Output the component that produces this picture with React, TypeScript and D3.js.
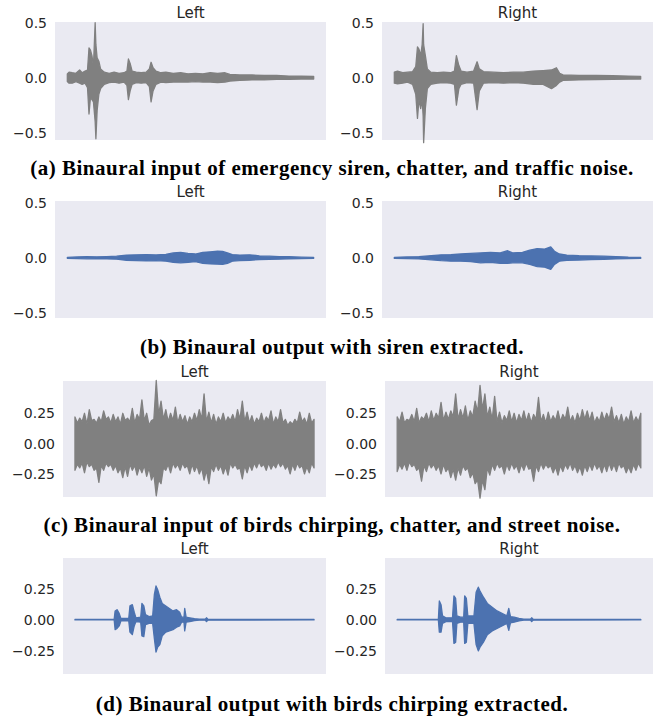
import React from 'react';
import * as d3 from 'd3';

type Env = [number, number, number][]; // [time %, upper envelope, lower envelope]

// (a) input: siren + chatter + traffic
const sirenInputLeft: Env = [
  [0, 0.035, -0.035], [0.7, 0.05, -0.05], [2, 0.045, -0.05], [3.5, 0.04, -0.035], [5, 0.07, -0.05],
  [6, 0.045, -0.06], [7.2, 0.06, -0.05], [8.2, 0.07, -0.09], [8.8, 0.27, -0.33], [9.4, 0.25, -0.18],
  [10, 0.2, -0.2], [10.6, 0.1, -0.22], [11.3, 0.5, -0.4], [11.6, 0.3, -0.555], [12.1, 0.18, -0.3],
  [12.8, 0.15, -0.15], [13.5, 0.08, -0.1], [15, 0.05, -0.06], [17, 0.04, -0.045], [19, 0.05, -0.04],
  [21, 0.04, -0.05], [23, 0.045, -0.04], [24.2, 0.06, -0.07], [24.8, 0.17, -0.2], [25.5, 0.13, -0.12],
  [26.3, 0.06, -0.06], [28, 0.05, -0.045], [30, 0.045, -0.05], [32, 0.05, -0.045], [33.3, 0.08, -0.08],
  [34, 0.14, -0.22], [34.8, 0.09, -0.12], [36, 0.06, -0.06], [38, 0.045, -0.04], [40, 0.05, -0.045],
  [43, 0.04, -0.04], [46, 0.045, -0.04], [49, 0.035, -0.04], [52, 0.04, -0.035], [55, 0.035, -0.04],
  [58, 0.045, -0.04], [61, 0.04, -0.045], [64, 0.045, -0.04], [66, 0.03, -0.03], [70, 0.025, -0.025],
  [75, 0.025, -0.02], [80, 0.02, -0.02], [85, 0.02, -0.015], [90, 0.015, -0.015], [95, 0.013, -0.012],
  [100, 0.012, -0.012],
];
const sirenInputRight: Env = [
  [0, 0.05, -0.05], [1.3, 0.06, -0.055], [3.4, 0.045, -0.05], [5.4, 0.05, -0.04], [7.4, 0.055, -0.06],
  [8.7, 0.1, -0.15], [9.4, 0.28, -0.37], [10, 0.26, -0.2], [10.7, 0.2, -0.28], [11.3, 0.3, -0.2],
  [11.7, 0.49, -0.35], [11.9, 0.3, -0.59], [12.6, 0.2, -0.28], [13.4, 0.08, -0.1], [14.8, 0.05, -0.06],
  [17.4, 0.045, -0.05], [20, 0.05, -0.045], [22.8, 0.045, -0.05], [24.4, 0.06, -0.06], [25.2, 0.2, -0.25],
  [26.2, 0.11, -0.1], [27.1, 0.06, -0.06], [29.5, 0.05, -0.045], [32.2, 0.06, -0.05], [33.6, 0.145, -0.29],
  [34.5, 0.08, -0.12], [36.2, 0.055, -0.05], [40.3, 0.05, -0.045], [44.3, 0.045, -0.05], [48.3, 0.05, -0.045],
  [52.3, 0.05, -0.05], [56.4, 0.06, -0.06], [60.4, 0.065, -0.06], [63.8, 0.07, -0.1], [65.8, 0.09, -0.07],
  [67.1, 0.04, -0.04], [68.5, 0.025, -0.025], [75, 0.022, -0.02], [82, 0.02, -0.018], [88.6, 0.018, -0.015],
  [95, 0.015, -0.013], [100, 0.012, -0.012],
];

// (b) output: siren extracted
const sirenOutputLeft: Env = [
  [0, 0.004, -0.004], [4, 0.008, -0.007], [8, 0.01, -0.009], [12, 0.009, -0.01], [16, 0.012, -0.01],
  [20, 0.015, -0.012], [24, 0.025, -0.022], [28, 0.028, -0.025], [32, 0.03, -0.028], [36, 0.027, -0.025],
  [40, 0.032, -0.03], [43, 0.045, -0.04], [46, 0.05, -0.045], [49, 0.04, -0.04], [52, 0.035, -0.035],
  [55, 0.05, -0.05], [58, 0.055, -0.055], [61, 0.06, -0.058], [63, 0.058, -0.06], [65, 0.045, -0.05],
  [67, 0.03, -0.03], [70, 0.025, -0.025], [74, 0.028, -0.022], [78, 0.018, -0.015], [82, 0.015, -0.013],
  [86, 0.012, -0.012], [90, 0.01, -0.008], [95, 0.006, -0.006], [100, 0.004, -0.004],
];
const sirenOutputRight: Env = [
  [0, 0.005, -0.005], [5, 0.008, -0.007], [10, 0.012, -0.01], [15, 0.02, -0.018], [19, 0.028, -0.025],
  [23, 0.03, -0.03], [27, 0.035, -0.03], [31, 0.04, -0.035], [35, 0.045, -0.045], [39, 0.05, -0.04],
  [43, 0.045, -0.05], [46, 0.065, -0.05], [48, 0.045, -0.045], [52, 0.05, -0.045], [55, 0.07, -0.06],
  [58, 0.085, -0.08], [61, 0.08, -0.085], [63.5, 0.1, -0.105], [65, 0.06, -0.06], [67, 0.035, -0.03],
  [70, 0.025, -0.022], [75, 0.02, -0.02], [80, 0.018, -0.015], [85, 0.015, -0.013], [90, 0.012, -0.01],
  [95, 0.007, -0.006], [100, 0.005, -0.005],
];

// (c) input: birds + chatter + street — spike peaks (51) and the dense body between them (50)
const birdsInputLeftPeakHi = [0.22, 0.21, 0.25, 0.28, 0.2, 0.22, 0.27, 0.22, 0.24, 0.22, 0.25, 0.21, 0.29, 0.24, 0.36, 0.25, 0.19, 0.52, 0.35, 0.28, 0.25, 0.3, 0.24, 0.23, 0.22, 0.25, 0.28, 0.41, 0.26, 0.24, 0.22, 0.25, 0.22, 0.24, 0.28, 0.35, 0.26, 0.23, 0.21, 0.25, 0.22, 0.27, 0.22, 0.28, 0.2, 0.18, 0.2, 0.26, 0.21, 0.25, 0.2];
const birdsInputLeftPeakLo = [-0.22, -0.2, -0.24, -0.19, -0.22, -0.32, -0.22, -0.19, -0.22, -0.24, -0.28, -0.27, -0.22, -0.26, -0.24, -0.27, -0.3, -0.43, -0.33, -0.22, -0.24, -0.2, -0.22, -0.2, -0.25, -0.23, -0.25, -0.3, -0.33, -0.23, -0.22, -0.25, -0.26, -0.2, -0.21, -0.29, -0.24, -0.22, -0.2, -0.19, -0.22, -0.21, -0.2, -0.19, -0.21, -0.25, -0.22, -0.2, -0.25, -0.24, -0.2];
const birdsInputLeftBodyHi = [0.17, 0.18, 0.16, 0.19, 0.17, 0.18, 0.2, 0.17, 0.18, 0.16, 0.19, 0.18, 0.17, 0.2, 0.19, 0.15, 0.2, 0.24, 0.2, 0.18, 0.19, 0.17, 0.18, 0.16, 0.18, 0.19, 0.2, 0.18, 0.17, 0.16, 0.18, 0.17, 0.19, 0.18, 0.2, 0.18, 0.17, 0.16, 0.18, 0.17, 0.19, 0.16, 0.18, 0.17, 0.15, 0.16, 0.17, 0.18, 0.16, 0.17];
const birdsInputLeftBodyLo = [-0.17, -0.16, -0.15, -0.17, -0.2, -0.18, -0.16, -0.17, -0.18, -0.2, -0.19, -0.17, -0.18, -0.19, -0.18, -0.2, -0.25, -0.3, -0.2, -0.17, -0.16, -0.17, -0.16, -0.18, -0.17, -0.18, -0.2, -0.22, -0.19, -0.17, -0.18, -0.19, -0.16, -0.17, -0.2, -0.18, -0.17, -0.16, -0.15, -0.17, -0.16, -0.17, -0.15, -0.16, -0.18, -0.17, -0.16, -0.18, -0.19, -0.16];
const birdsInputRightPeakHi = [0.22, 0.26, 0.2, 0.24, 0.29, 0.22, 0.25, 0.27, 0.25, 0.34, 0.26, 0.27, 0.41, 0.28, 0.31, 0.27, 0.35, 0.48, 0.41, 0.3, 0.39, 0.26, 0.23, 0.27, 0.25, 0.24, 0.27, 0.25, 0.24, 0.38, 0.24, 0.26, 0.23, 0.27, 0.24, 0.3, 0.23, 0.25, 0.28, 0.27, 0.26, 0.22, 0.26, 0.25, 0.3, 0.23, 0.24, 0.22, 0.27, 0.22, 0.25];
const birdsInputRightPeakLo = [-0.23, -0.21, -0.22, -0.19, -0.22, -0.31, -0.23, -0.2, -0.22, -0.25, -0.23, -0.28, -0.3, -0.26, -0.22, -0.28, -0.33, -0.45, -0.38, -0.26, -0.22, -0.2, -0.25, -0.22, -0.21, -0.24, -0.22, -0.21, -0.31, -0.23, -0.21, -0.2, -0.24, -0.26, -0.23, -0.21, -0.22, -0.24, -0.26, -0.23, -0.22, -0.21, -0.24, -0.23, -0.22, -0.23, -0.2, -0.24, -0.24, -0.22, -0.2];
const birdsInputRightBodyHi = [0.18, 0.17, 0.19, 0.18, 0.17, 0.2, 0.18, 0.19, 0.21, 0.19, 0.2, 0.22, 0.2, 0.21, 0.19, 0.22, 0.26, 0.28, 0.22, 0.2, 0.18, 0.17, 0.19, 0.18, 0.17, 0.19, 0.18, 0.17, 0.2, 0.18, 0.17, 0.18, 0.19, 0.18, 0.2, 0.18, 0.17, 0.19, 0.2, 0.19, 0.17, 0.18, 0.19, 0.2, 0.18, 0.17, 0.16, 0.18, 0.17, 0.18];
const birdsInputRightBodyLo = [-0.17, -0.16, -0.15, -0.17, -0.2, -0.18, -0.16, -0.17, -0.18, -0.17, -0.2, -0.21, -0.2, -0.18, -0.2, -0.24, -0.3, -0.3, -0.2, -0.17, -0.16, -0.18, -0.17, -0.16, -0.18, -0.17, -0.16, -0.2, -0.18, -0.16, -0.17, -0.18, -0.19, -0.18, -0.17, -0.16, -0.18, -0.19, -0.18, -0.17, -0.16, -0.18, -0.17, -0.16, -0.17, -0.16, -0.18, -0.19, -0.17, -0.16];

// (d) output: birds extracted
const birdsOutputLeft: Env = [
  [0, 0.002, -0.002], [16.4, 0.002, -0.002], [16.8, 0.07, -0.08], [17.6, 0.08, -0.07], [18.5, 0.05, -0.05],
  [19.2, 0.01, -0.01], [22.5, 0.01, -0.01], [23, 0.11, -0.1], [24, 0.12, -0.12], [24.8, 0.06, -0.05],
  [25.5, 0.015, -0.015], [27.5, 0.02, -0.02], [28, 0.13, -0.13], [28.8, 0.11, -0.135], [29.5, 0.04, -0.04],
  [31, 0.025, -0.03], [32.5, 0.03, -0.03], [33.2, 0.2, -0.15], [33.9, 0.27, -0.26], [34.6, 0.24, -0.22],
  [35.5, 0.18, -0.2], [36.5, 0.13, -0.13], [38, 0.11, -0.1], [39.5, 0.09, -0.09], [41, 0.07, -0.08],
  [42.5, 0.08, -0.06], [43.8, 0.06, -0.05], [44.6, 0.02, -0.02], [45.6, 0.02, -0.02], [45.9, 0.09, -0.09],
  [46.5, 0.02, -0.02], [48, 0.015, -0.015], [50, 0.008, -0.008], [52, 0.004, -0.004], [54.5, 0.004, -0.004],
  [55, 0.015, -0.015], [55.6, 0.004, -0.004], [100, 0.002, -0.002],
];
const birdsOutputRight: Env = [
  [0, 0.002, -0.002], [16.9, 0.002, -0.002], [17.3, 0.15, -0.1], [18, 0.12, -0.1], [18.6, 0.03, -0.03],
  [20, 0.015, -0.015], [22.7, 0.015, -0.015], [23.3, 0.19, -0.19], [24, 0.17, -0.18], [24.5, 0.03, -0.03],
  [26, 0.02, -0.02], [27.3, 0.02, -0.02], [27.7, 0.19, -0.19], [28.4, 0.17, -0.18], [29, 0.03, -0.03],
  [31.5, 0.03, -0.03], [32.4, 0.22, -0.2], [33.3, 0.26, -0.25], [34, 0.23, -0.22], [35.4, 0.18, -0.18],
  [37, 0.13, -0.12], [39, 0.1, -0.09], [41, 0.07, -0.07], [43, 0.05, -0.05], [45, 0.03, -0.03],
  [45.8, 0.09, -0.085], [46.5, 0.025, -0.025], [48, 0.02, -0.02], [50, 0.01, -0.01], [52, 0.004, -0.004],
  [54.7, 0.004, -0.004], [55.2, 0.015, -0.015], [55.8, 0.004, -0.004], [100, 0.002, -0.002],
];

const channelTitles = ['Left', 'Right'];
const ticksHalf = [-0.5, 0, 0.5];
const ticksQuarter = [-0.25, 0, 0.25];
const captions = [
  '(a) Binaural input of emergency siren, chatter, and traffic noise.',
  '(b) Binaural output with siren extracted.',
  '(c) Binaural input of birds chirping, chatter, and street noise.',
  '(d) Binaural output with birds chirping extracted.',
];

const GRAY = '#808080';
const BLUE = '#4C72B0';

// interleave spike peaks with the body level between them, along a 0–100 % time axis
const interleave = (pHi: number[], pLo: number[], bHi: number[], bLo: number[]): Env => {
  const out: Env = [];
  const n = (pHi.length - 1) * 2;
  pHi.forEach((h, i) => {
    out.push([(2 * i / n) * 100, h, pLo[i]]);
    if (i < bHi.length) out.push([((2 * i + 1) / n) * 100, bHi[i], bLo[i]]);
  });
  return out;
};

const rows = [
  { top: 22, bottom: 140, yDomain: [-0.566, 0.506], ticks: ticksHalf, fmt: '.1f', xs: [[55, 326], [382, 653]], data: [sirenInputLeft, sirenInputRight], color: GRAY, captionY: 175 },
  { top: 201, bottom: 318, yDomain: [-0.548, 0.518], ticks: ticksHalf, fmt: '.1f', xs: [[55, 326], [382, 653]], data: [sirenOutputLeft, sirenOutputRight], color: BLUE, captionY: 354 },
  { top: 381, bottom: 497, yDomain: [-0.44, 0.516], ticks: ticksQuarter, fmt: '.2f', xs: [[63, 326], [385, 653]], data: [interleave(birdsInputLeftPeakHi, birdsInputLeftPeakLo, birdsInputLeftBodyHi, birdsInputLeftBodyLo), interleave(birdsInputRightPeakHi, birdsInputRightPeakLo, birdsInputRightBodyHi, birdsInputRightBodyLo)], color: GRAY, captionY: 532 },
  { top: 558, bottom: 674, yDomain: [-0.435, 0.494], ticks: ticksQuarter, fmt: '.2f', xs: [[63, 326], [385, 653]], data: [birdsOutputLeft, birdsOutputRight], color: BLUE, captionY: 711 },
];

const Panel = ({ x0, x1, top, bottom, yDomain, ticks, fmt, data, color, title }: any) => {
  const x = d3.scaleLinear().domain([-5, 105]).range([x0, x1]);
  const y = d3.scaleLinear().domain(yDomain).range([bottom, top]);
  const area = d3.area<[number, number, number]>()
    .x(d => x(d[0]))
    .y0(d => y(d[2]))
    .y1(d => y(d[1]));
  const f = d3.format(fmt);
  return (
    <g>
      <rect x={x0} y={top} width={x1 - x0} height={bottom - top} fill="#EAEAF2" />
      <path d={area(data) || ''} fill={color} stroke={color} strokeWidth={1.3} strokeLinejoin="round" />
      {ticks.map((t: number) => (
        <text key={t} x={x0 - 8} y={y(t)} dy="0.36em" textAnchor="end" fontSize={14}
          fontFamily="DejaVu Sans" fill="#262626">{f(t)}</text>
      ))}
      <text x={(x0 + x1) / 2} y={top - 4} textAnchor="middle" fontSize={15}
        fontFamily="DejaVu Sans" fill="#262626">{title}</text>
    </g>
  );
};

export default function App() {
  return (
    <svg width={654} height={717} style={{ position: 'absolute', left: 0, top: 0, background: '#fff' }}>
      {rows.map((r, ri) => (
        <g key={ri}>
          {r.xs.map((xr, ci) => (
            <Panel key={ci} x0={xr[0]} x1={xr[1]} top={r.top} bottom={r.bottom} yDomain={r.yDomain}
              ticks={r.ticks} fmt={r.fmt} data={r.data[ci]} color={r.color} title={channelTitles[ci]} />
          ))}
          <text x={332} y={r.captionY} textAnchor="middle" fontSize={21} fontWeight="bold" letterSpacing={0.5}
            fontFamily="Liberation Serif" fill="#000">{captions[ri]}</text>
        </g>
      ))}
    </svg>
  );
}
